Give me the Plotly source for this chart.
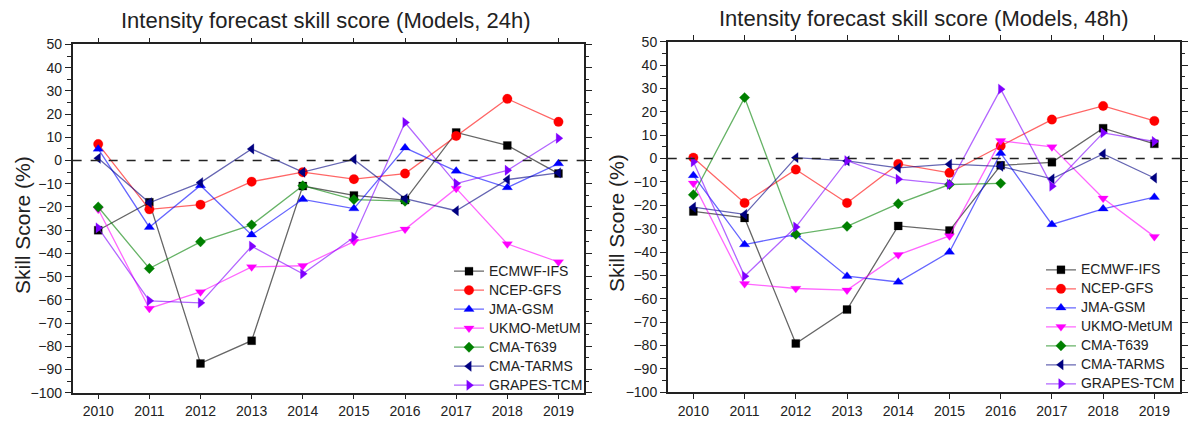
import plotly.graph_objects as go

years = list(range(2010, 2020))
models = ["ECMWF-IFS", "NCEP-GFS", "JMA-GSM", "UKMO-MetUM", "CMA-T639", "CMA-TARMS", "GRAPES-TCM"]
titles = ["Intensity forecast skill score (Models, 24h)", "Intensity forecast skill score (Models, 48h)"]
y_title = "Skill Score (%)"

# 24h
ecmwf_24 = [-30, -18, -87.4, -77.6, -11, -15, -17, 12.1, 6.5, -5.6]
ncep_24 = [7.1, -21, -19, -9.1, -5, -8, -5.6, 10.6, 26.6, 16.7]
jma_24 = [5, -28.7, -10.7, -32, -16.7, -20.7, 5.5, -4.5, -11.6, -1.3]
ukmo_24 = [-21, -63.7, -56.6, -45.8, -45.3, -34.9, -29.6, -12, -35.9, -43.7]
t639_24 = [-20, -46.5, -35, -27.7, -10.8, -16.8, -17.5, None, None, None]
tarms_24 = [1, -18.2, -9.5, 5, -5, 0.5, -16.4, -21.6, -8.2, -5.3]
grapes_24 = [-29, -60.4, -61.3, -36.9, -48.8, -33, 16.4, -9.9, -4.2, 9.6]

# 48h
ecmwf_48 = [-22.6, -25.4, -79.1, -64.6, -28.8, -30.8, -2.9, -1.6, 13, 6.3]
ncep_48 = [0.4, -19, -4.7, -19, -2.3, -6.1, 5.4, 16.7, 22.5, 16.1]
jma_48 = [-7.2, -36.8, -32.5, -50.3, -52.8, -40, 2.3, -28.2, -21.5, -16.5]
ukmo_48 = [-10.6, -53.6, -55.6, -56.3, -41.2, -33.1, 7.6, 5, -17, -33.4]
t639_48 = [-15.5, 26.1, -32.4, -29, -19.3, -11.1, -10.6, None, None, None]
tarms_48 = [-20.8, -23.9, 0.4, -1, -4, -2.4, -3.3, -8.7, 2, -8.3]
grapes_48 = [-1.4, -50.3, -29.3, -0.9, -8.8, -11, 29.7, -11.8, 11, 7.3]

series_24 = [ecmwf_24, ncep_24, jma_24, ukmo_24, t639_24, tarms_24, grapes_24]
series_48 = [ecmwf_48, ncep_48, jma_48, ukmo_48, t639_48, tarms_48, grapes_48]

colors = [(0, 0, 0), (255, 0, 0), (0, 0, 255), (255, 0, 255), (0, 128, 0), (0, 0, 128), (128, 0, 255)]
symbols = ["square", "circle", "triangle-up", "triangle-down", "diamond", "triangle-left", "triangle-right"]
sizes = [8, 9.5, 9, 9, 8, 9, 9]

FONT = "Arial, Liberation Sans, sans-serif"
TXT = "#222"
fig = go.Figure()

for panel, series in enumerate([series_24, series_48]):
    xa = "x" if panel == 0 else "x2"
    ya = "y" if panel == 0 else "y2"
    lg = "legend" if panel == 0 else "legend2"
    for name, vals, c, sym, sz in zip(models, series, colors, symbols, sizes):
        fig.add_trace(go.Scatter(
            x=years, y=vals, name='<span style="font-size:14px">%s</span>' % name,
            mode="lines+markers",
            xaxis=xa, yaxis=ya, legend=lg,
            line=dict(color="rgba(%d,%d,%d,0.6)" % c, width=1.3),
            marker=dict(symbol=sym, size=sz, color="rgb(%d,%d,%d)" % c,
                        line=dict(width=0.5, color="rgba(%d,%d,%d,0.5)" % c)),
            connectgaps=False,
        ))

axis_common = dict(
    showline=True, linecolor=TXT, linewidth=1.5, mirror="allticks",
    ticks="outside", tickcolor=TXT, tickwidth=1.3, ticklen=5,
    showgrid=False, zeroline=False, automargin=False,
    tickfont=dict(family=FONT, size=14, color=TXT),
)
xcommon = dict(axis_common, range=[2009.5, 2019.5], tickvals=years, ticktext=[str(y) for y in years])
ycommon = dict(axis_common, range=[-100, 50], dtick=10, tick0=0, ticklen=6,
               minor=dict(dtick=5, ticks="outside", ticklen=3.5, tickcolor=TXT, tickwidth=1.2, showgrid=False))

legend_common = dict(xanchor="right", yanchor="bottom", bgcolor="rgba(0,0,0,0)",
                     font=dict(family=FONT, size=12, color=TXT), tracegroupgap=0, itemwidth=30)

fig.update_layout(
    width=1189, height=421,
    margin=dict(l=0, r=0, t=0, b=0, autoexpand=False),
    paper_bgcolor="white", plot_bgcolor="white",
    font=dict(family=FONT, color=TXT),
    xaxis=dict(xcommon, domain=[0.0611, 0.4912], anchor="y"),
    yaxis=dict(ycommon, domain=[0.0672, 0.8943], anchor="x"),
    xaxis2=dict(xcommon, domain=[0.5616, 0.9924], anchor="y2"),
    yaxis2=dict(ycommon, domain=[0.0682, 0.9009], anchor="x2"),
    legend=dict(legend_common, x=588 / 1189, y=0.0672 - 7 / 421),
    legend2=dict(legend_common, x=0.9924, y=0.0682 - 6 / 421),
    showlegend=True,
)

for xr, yr in [("x domain", "y"), ("x2 domain", "y2")]:
    fig.add_shape(type="line", xref=xr, yref=yr, x0=0, x1=1, y0=0, y1=0,
                  line=dict(color=TXT, width=1.5, dash="dash"))

annotations = [
    dict(text=titles[0], x=326 / 1189, y=1 - 21 / 421, xref="paper", yref="paper",
         showarrow=False, font=dict(family=FONT, size=22, color=TXT), xanchor="center", yanchor="middle"),
    dict(text=titles[1], x=924 / 1189, y=1 - 18 / 421, xref="paper", yref="paper",
         showarrow=False, font=dict(family=FONT, size=22, color=TXT), xanchor="center", yanchor="middle"),
    dict(text=y_title, x=22 / 1189, y=1 - 225 / 421, xref="paper", yref="paper", textangle=-90,
         showarrow=False, font=dict(family=FONT, size=21, color=TXT), xanchor="center", yanchor="middle"),
    dict(text=y_title, x=616 / 1189, y=1 - 223 / 421, xref="paper", yref="paper", textangle=-90,
         showarrow=False, font=dict(family=FONT, size=21, color=TXT), xanchor="center", yanchor="middle"),
]
fig.update_layout(annotations=annotations)

fig.write_html("out.html")
